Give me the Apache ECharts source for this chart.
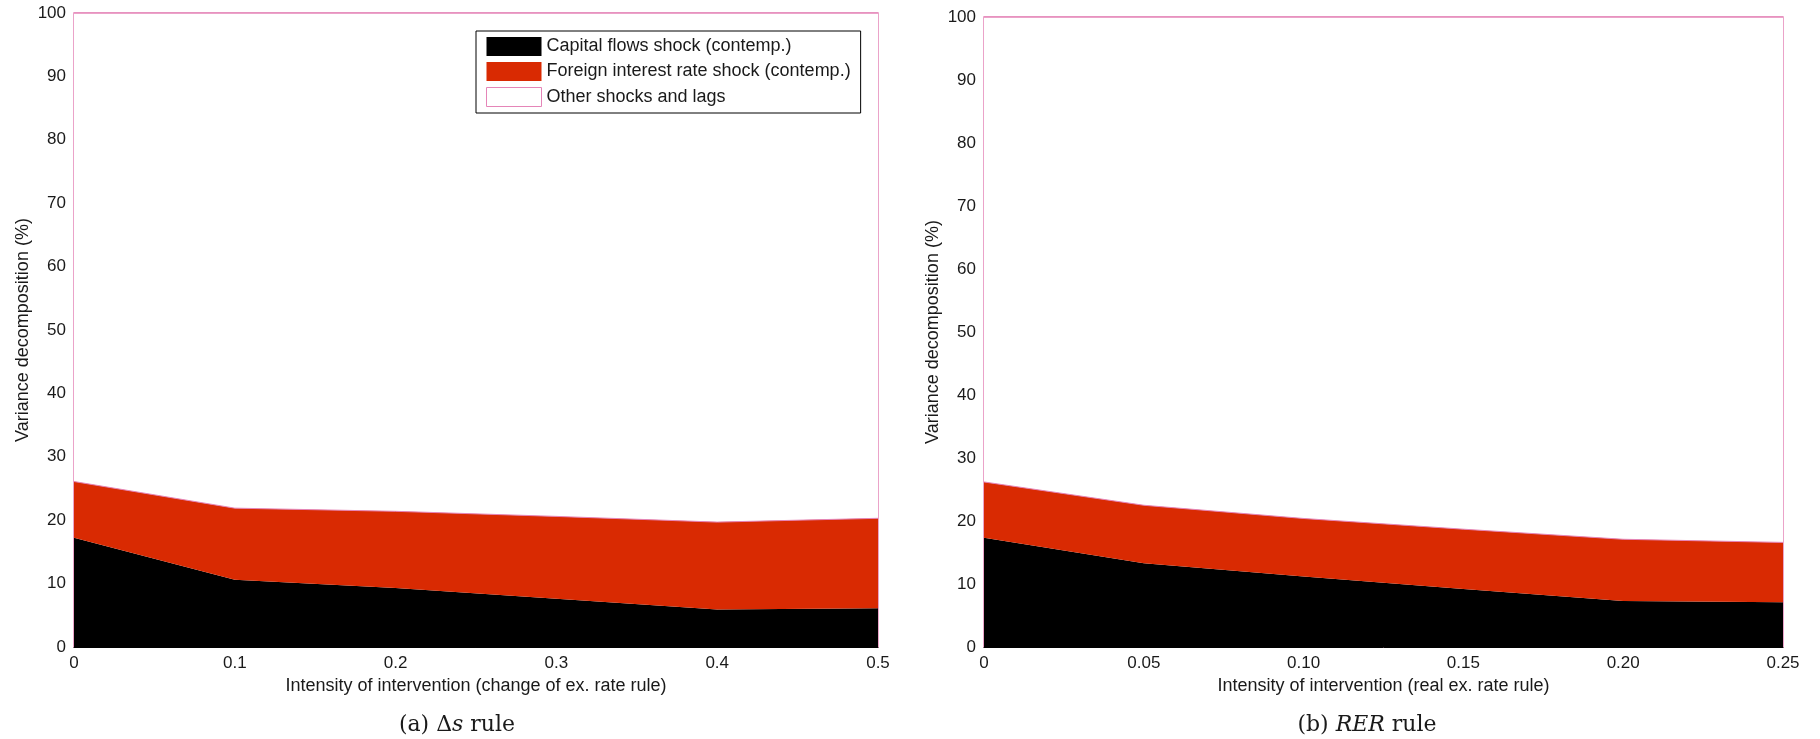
<!DOCTYPE html>
<html><head><meta charset="utf-8">
<script src="https://cdn.jsdelivr.net/npm/echarts@6/dist/echarts.min.js"></script>
<style>html,body{margin:0;padding:0;background:#fff;}#c{width:1820px;height:739px;}</style>
</head><body><div id="c"></div>
<script>
// Panel (a): change of ex. rate rule
const xTicksA = ['0', '0.1', '0.2', '0.3', '0.4', '0.5'];
const capitalA = [17.25, 10.6, 9.3, 7.6, 5.9, 6.1];
const foreignA = [8.85, 11.3, 12.1, 13.0, 13.8, 14.2];
// Panel (b): real ex. rate rule
const xTicksB = ['0', '0.05', '0.10', '0.15', '0.20', '0.25'];
const capitalB = [17.35, 13.3, 11.2, 9.2, 7.3, 7.1];
const foreignB = [8.85, 9.2, 9.2, 9.5, 9.8, 9.5];
const yTicks = ['0','10','20','30','40','50','60','70','80','90','100'];
const names = ['Capital flows shock (contemp.)', 'Foreign interest rate shock (contemp.)', 'Other shocks and lags'];

const PINK = '#e585b8';
const RED = '#d92a02';
const txt = '#1a1a1a';
const font = 'Liberation Sans, Arial, sans-serif';
const serif = 'DejaVu Serif, Liberation Serif, serif';

function other(a, b) { return a.map((v, i) => +(100 - v - b[i]).toFixed(3)); }

function seriesFor(idx, cap, forn) {
  return [
    { name: names[0], type: 'line', xAxisIndex: idx, yAxisIndex: idx, stack: 's' + idx, symbol: 'none',
      data: cap, lineStyle: { width: 0, color: '#000' }, itemStyle: { color: '#000' },
      areaStyle: { color: '#000', opacity: 1 }, z: 2 },
    { name: names[1], type: 'line', xAxisIndex: idx, yAxisIndex: idx, stack: 's' + idx, symbol: 'none',
      data: forn, lineStyle: { width: 1, color: PINK }, itemStyle: { color: RED },
      areaStyle: { color: RED, opacity: 1 }, z: 2 },
    { name: names[2], type: 'line', xAxisIndex: idx, yAxisIndex: idx, stack: 's' + idx, symbol: 'none',
      data: other(cap, forn), lineStyle: { width: 1.5, color: PINK }, itemStyle: { color: '#fff' },
      areaStyle: { color: '#fff', opacity: 1 }, z: 1 }
  ];
}

function xAxis(idx, ticks, name) {
  return { type: 'category', gridIndex: idx, data: ticks, boundaryGap: false,
    name: name, nameLocation: 'middle', nameGap: 28,
    nameTextStyle: { color: txt, fontSize: 18, fontFamily: font },
    axisLine: { show: true, lineStyle: { color: '#000' } }, axisTick: { show: false }, splitLine: { show: false },
    axisLabel: { color: txt, fontSize: 17, fontFamily: font, margin: 8 } };
}
function yAxis(idx) {
  return { type: 'value', gridIndex: idx, min: 0, max: 100, interval: 10,
    name: 'Variance decomposition (%)', nameLocation: 'middle', nameGap: 42,
    nameTextStyle: { color: txt, fontSize: 18, fontFamily: font },
    axisLine: { show: false }, axisTick: { show: false }, splitLine: { show: false },
    axisLabel: { color: txt, fontSize: 17, fontFamily: font, margin: 8,
      formatter: (v, i) => yTicks[i] !== undefined ? yTicks[i] : '' } };
}

const chart = echarts.init(document.getElementById('c'), null, { renderer: 'canvas' });
chart.setOption({
  animation: false,
  backgroundColor: '#fff',
  grid: [
    { left: 74, top: 13, width: 804, height: 634, show: true, borderColor: PINK, borderWidth: 1.5, backgroundColor: 'transparent' },
    { left: 984, top: 17, width: 799, height: 630, show: true, borderColor: PINK, borderWidth: 1.5, backgroundColor: 'transparent' }
  ],
  xAxis: [
    xAxis(0, xTicksA, 'Intensity of intervention (change of ex. rate rule)'),
    xAxis(1, xTicksB, 'Intensity of intervention (real ex. rate rule)')
  ],
  yAxis: [yAxis(0), yAxis(1)],
  legend: {
    orient: 'vertical', left: 476, top: 31, itemWidth: 55, itemHeight: 19, itemGap: 6,
    padding: [6, 10, 6, 10], borderColor: '#000', borderWidth: 1, backgroundColor: '#fff',
    textStyle: { color: txt, fontSize: 18, fontFamily: font },
    data: [
      { name: names[0], icon: 'rect', itemStyle: { color: '#000' } },
      { name: names[1], icon: 'rect', itemStyle: { color: RED } },
      { name: names[2], icon: 'rect', itemStyle: { color: '#fff', borderColor: PINK, borderWidth: 1 } }
    ]
  },
  title: [
    { left: 452, top: 709, textAlign: 'center',
      text: '(a) Δ{i|s} rule',
      textStyle: { color: txt, fontSize: 22, fontWeight: 'normal', fontFamily: serif,
        rich: { i: { fontStyle: 'italic', fontSize: 22, fontFamily: serif, color: txt } } } },
    { left: 1362, top: 709, textAlign: 'center',
      text: '(b) {i|RER} rule',
      textStyle: { color: txt, fontSize: 22, fontWeight: 'normal', fontFamily: serif,
        rich: { i: { fontStyle: 'italic', fontSize: 22, fontFamily: serif, color: txt } } } }
  ],
  series: [...seriesFor(0, capitalA, foreignA), ...seriesFor(1, capitalB, foreignB)]
});
</script></body></html>
